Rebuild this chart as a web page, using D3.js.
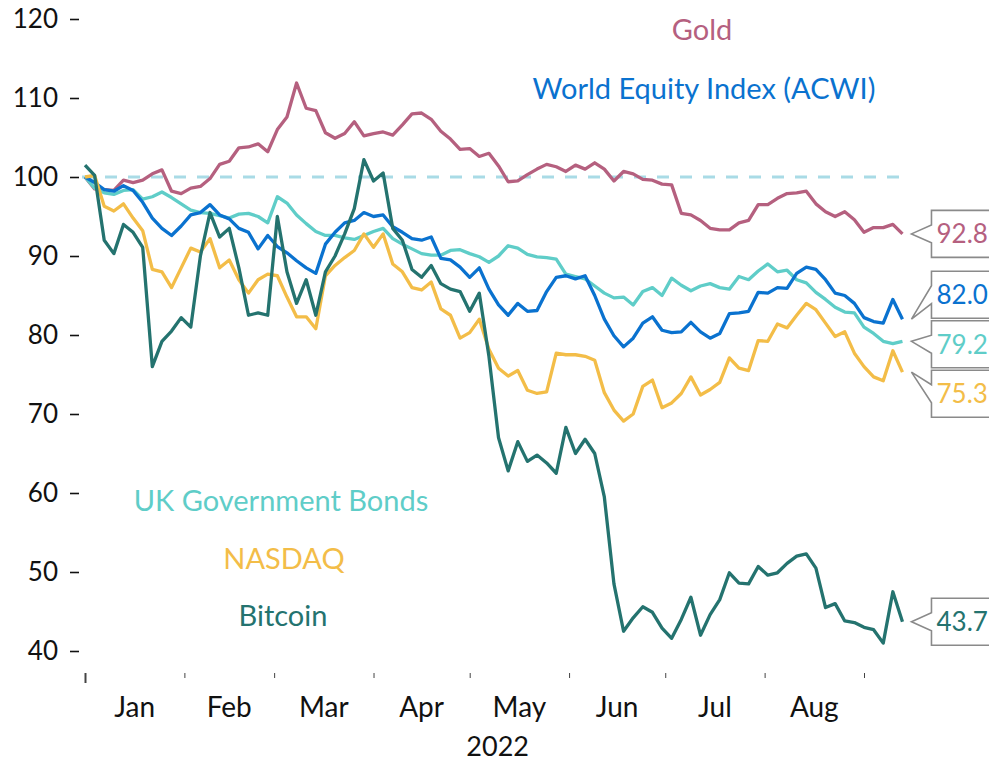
<!DOCTYPE html>
<html>
<head>
<meta charset="utf-8">
<script src="https://cdn.jsdelivr.net/npm/d3@7"></script>
<style>
  body { margin: 0; background: #fff; }
  text { font-family: Lato, "Open Sans", sans-serif; }
</style>
</head>
<body>
<svg id="chart" width="989" height="763"></svg>
<script>
// sample dates: every third day from 1 Jan 2022
var startDate = new Date(2022, 0, 1);
var dates = d3.range(86).map(function(i) { return d3.timeDay.offset(startDate, 3 * i); });

var gold = [100.0, 98.5, 98.4, 98.3, 99.6, 99.3, 99.6, 100.4, 100.9, 98.2,
  97.9, 98.6, 98.8, 99.8, 101.6, 102.0, 103.7, 103.8, 104.2, 103.2,
  106.0, 107.6, 111.9, 108.7, 108.4, 105.6, 104.9, 105.5, 107.0, 105.2,
  105.5, 105.7, 105.3, 106.6, 108.0, 108.1, 107.3, 105.8, 104.8, 103.5,
  103.6, 102.6, 103.0, 101.4, 99.4, 99.5, 100.3, 101.0, 101.6, 101.3,
  100.7, 101.5, 101.0, 101.8, 101.0, 99.5, 100.7, 100.4, 99.7, 99.6,
  99.1, 99.0, 95.4, 95.2, 94.5, 93.5, 93.3, 93.3, 94.2, 94.5,
  96.5, 96.5, 97.3, 97.9, 98.0, 98.2, 96.6, 95.6, 95.0, 95.6,
  94.6, 93.0, 93.6, 93.6, 94.0, 92.8];

var acwi = [100.0, 99.3, 98.4, 98.2, 98.9, 98.3, 96.8, 94.8, 93.5, 92.6,
  93.8, 95.2, 95.5, 96.5, 95.2, 94.7, 93.5, 93.0, 90.9, 92.6,
  91.2, 90.4, 89.4, 88.5, 87.8, 91.5, 93.0, 94.2, 94.5, 95.5,
  95.0, 95.2, 93.7, 93.0, 92.2, 92.0, 92.4, 89.7, 89.5, 88.6,
  87.3, 88.5, 85.8, 83.8, 82.5, 84.0, 83.0, 83.1, 85.5, 87.3,
  87.5, 87.1, 87.5, 85.0, 82.0, 79.9, 78.5, 79.6, 81.5, 82.3,
  80.6, 80.3, 80.4, 81.6, 80.4, 79.6, 80.2, 82.7, 82.8, 83.0,
  85.4, 85.3, 86.0, 85.9, 87.8, 88.6, 88.3, 87.0, 85.3, 85.0,
  84.0, 82.2, 81.7, 81.5, 84.5, 82.0];

var ukBonds = [100.0, 98.6, 98.0, 97.8, 98.3, 98.4, 97.2, 97.5, 98.1, 97.4,
  96.6, 95.8, 95.5, 95.4, 95.1, 94.8, 95.3, 95.4, 95.0, 94.2,
  97.5, 96.7, 95.2, 94.1, 93.1, 92.6, 92.6, 92.3, 92.1, 92.6,
  93.1, 93.5, 92.2, 91.5, 90.9, 90.3, 90.1, 90.1, 90.7, 90.8,
  90.3, 89.9, 89.2, 90.0, 91.3, 91.0, 90.2, 89.9, 89.8, 89.6,
  87.7, 87.4, 87.1, 86.2, 85.3, 84.7, 84.8, 83.8, 85.5, 86.0,
  85.0, 87.2, 86.3, 85.6, 86.2, 86.5, 86.0, 85.8, 87.4, 87.0,
  88.1, 89.0, 88.0, 88.2, 87.0, 86.6, 85.4, 84.5, 83.5, 82.9,
  82.8, 81.0, 80.2, 79.2, 78.9, 79.2];

var nasdaq = [100.0, 100.2, 96.3, 95.7, 96.6, 94.8, 93.2, 88.3, 88.0, 86.0,
  88.5, 91.0, 90.5, 92.2, 88.5, 89.5, 87.0, 85.3, 87.0, 87.7,
  87.5, 84.8, 82.3, 82.3, 80.8, 87.5, 88.8, 89.8, 90.7, 92.8,
  91.1, 92.8, 89.0, 88.0, 86.0, 85.7, 86.7, 83.3, 82.5, 79.6,
  80.3, 82.0, 78.2, 75.8, 74.8, 75.5, 73.0, 72.6, 72.8, 77.7,
  77.5, 77.5, 77.3, 76.8, 72.7, 70.5, 69.1, 70.0, 73.5, 74.3,
  70.8, 71.4, 72.6, 74.7, 72.4, 73.1, 74.0, 77.1, 75.8, 75.5,
  79.3, 79.2, 81.4, 80.9, 82.5, 84.0, 83.2, 81.5, 79.8, 80.4,
  77.7, 76.0, 74.7, 74.2, 78.0, 75.3];

var bitcoin = [101.5, 100.2, 92.0, 90.3, 94.0, 93.0, 91.1, 76.0, 79.2, 80.5,
  82.2, 81.0, 90.0, 95.5, 92.4, 93.5, 88.5, 82.5, 82.8, 82.5,
  95.0, 88.0, 84.0, 87.0, 82.5, 88.0, 90.0, 92.8, 96.0, 102.2,
  99.5, 100.5, 93.5, 92.0, 88.3, 87.3, 88.8, 86.5, 85.8, 85.5,
  83.0, 85.3, 77.3, 67.0, 62.8, 66.5, 64.0, 64.8, 63.8, 62.5,
  68.3, 65.0, 66.8, 65.0, 59.5, 48.5, 42.5, 44.2, 45.6, 44.9,
  42.9, 41.6, 44.0, 46.8, 42.0, 44.6, 46.5, 49.9, 48.6, 48.5,
  50.7, 49.6, 49.9, 51.1, 52.0, 52.3, 50.5, 45.5, 46.0, 43.8,
  43.6, 43.0, 42.7, 41.0, 47.5, 43.7];

var yTicks = [40, 50, 60, 70, 80, 90, 100, 110, 120];
var baseline = 100;
var yearLabel = "2022";

var series = [
  { name: "Gold", values: gold, color: "#b5607f", lx: 702, ly: 40 },
  { name: "UK Government Bonds", values: ukBonds, color: "#5fcdc8", lx: 281, ly: 511 },
  { name: "World Equity Index (ACWI)", values: acwi, color: "#0a72cf", lx: 704, ly: 99 },
  { name: "NASDAQ", values: nasdaq, color: "#f3bd48", lx: 284, ly: 569 },
  { name: "Bitcoin", values: bitcoin, color: "#24736f", lx: 283, ly: 626 }
];

var svg = d3.select("#chart");

var x = d3.scaleTime()
  .domain([new Date(2022, 0, 1), new Date(2022, 8, 1)])
  .range([85, 864]);

var y = d3.scaleLinear()
  .domain([40, 120])
  .range([651, 19]);

// y axis: labels with short dashes
var yAxis = svg.append("g")
  .attr("transform", "translate(79,0)")
  .call(d3.axisLeft(y).tickValues(yTicks).tickSize(9).tickPadding(12));
yAxis.select(".domain").remove();
yAxis.selectAll(".tick line").attr("stroke", "#111").attr("stroke-width", 1.6);
yAxis.selectAll(".tick text")
  .attr("fill", "#111")
  .style("font-size", "26px")
  .style("font-family", "Lato, sans-serif");

// x axis: month ticks, labels in the middle of each month
var months = d3.timeMonth.range(new Date(2022, 0, 1), new Date(2022, 8, 2));
var xAxis = svg.append("g")
  .attr("transform", "translate(0,673)")
  .call(d3.axisBottom(x).tickValues(months).tickSize(5).tickFormat(""));
xAxis.select(".domain").remove();
xAxis.selectAll(".tick line")
  .attr("stroke", "#444")
  .attr("y2", function(d, i) { return i === 0 ? 10 : 5; })
  .attr("stroke-width", function(d, i) { return i === 0 ? 2 : 1; });

svg.append("g").selectAll("text")
  .data(months.slice(0, -1))
  .join("text")
  .attr("x", function(d) { return (x(d) + x(d3.timeMonth.offset(d, 1))) / 2; })
  .attr("y", 717)
  .attr("text-anchor", "middle")
  .attr("fill", "#111")
  .style("font-size", "28px")
  .text(d3.timeFormat("%b"));

svg.append("text")
  .attr("x", x(new Date(2022, 4, 1)) + 28)
  .attr("y", 756)
  .attr("text-anchor", "middle")
  .attr("fill", "#111")
  .style("font-size", "27px")
  .text(yearLabel);

// reference line at 100
svg.append("line")
  .attr("x1", x(dates[0]) - 3)
  .attr("x2", x(dates[dates.length - 1]) + 2)
  .attr("y1", y(baseline))
  .attr("y2", y(baseline))
  .attr("stroke", "#a9dbe6")
  .attr("stroke-width", 3)
  .attr("stroke-dasharray", "12,11");

var line = d3.line()
  .x(function(d, i) { return x(dates[i]); })
  .y(function(d) { return y(d); });

svg.append("g").selectAll("path")
  .data(series)
  .join("path")
  .attr("d", function(s) { return line(s.values); })
  .attr("fill", "none")
  .attr("stroke", function(s) { return s.color; })
  .attr("stroke-width", 3.3)
  .attr("stroke-linejoin", "round");

// series names
svg.append("g").selectAll("text")
  .data(series)
  .join("text")
  .attr("x", function(s) { return s.lx; })
  .attr("y", function(s) { return s.ly; })
  .attr("text-anchor", "middle")
  .attr("fill", function(s) { return s.color; })
  .style("font-size", "29px")
  .text(function(s) { return s.name; });

// end value callouts, pushed apart where they overlap
var boxH = 47, boxGap = 49.5;
var lastX = x(dates[dates.length - 1]);
var tipX = lastX + 9, boxX = tipX + 20;

var ends = series.map(function(s) {
  var v = s.values[s.values.length - 1];
  return { s: s, v: v, ty: y(v) };
}).sort(function(a, b) { return a.ty - b.ty; });

var groups = ends.map(function(e) { return { items: [e] }; });
function groupCenter(g) { return d3.mean(g.items, function(e) { return e.ty; }); }
var merged = true;
while (merged) {
  merged = false;
  for (var i = 1; i < groups.length; i++) {
    var a = groups[i - 1], b = groups[i];
    var aBottom = groupCenter(a) + a.items.length * boxGap / 2;
    var bTop = groupCenter(b) - b.items.length * boxGap / 2;
    if (aBottom > bTop) {
      a.items = a.items.concat(b.items);
      groups.splice(i, 1);
      merged = true;
      break;
    }
  }
}
groups.forEach(function(g) {
  var top = groupCenter(g) - g.items.length * boxGap / 2;
  g.items.forEach(function(e, k) { e.cy = top + boxGap * (k + 0.5); });
});

var callouts = svg.append("g").selectAll("g")
  .data(ends)
  .join("g");

callouts.append("path")
  .attr("d", function(e) {
    var t = e.cy - boxH / 2, b = e.cy + boxH / 2;
    return "M" + (boxX + 80) + "," + t + "L" + boxX + "," + t +
      "L" + boxX + "," + (e.cy - 9) + "L" + tipX + "," + e.ty +
      "L" + boxX + "," + (e.cy + 9) + "L" + boxX + "," + b +
      "L" + (boxX + 80) + "," + b;
  })
  .attr("fill", "#fff")
  .attr("stroke", "#8a8a8a")
  .attr("stroke-width", 1.6);

callouts.append("text")
  .attr("x", boxX + 5)
  .attr("y", function(e) { return e.cy; })
  .attr("dy", "0.36em")
  .attr("fill", function(e) { return e.s.color; })
  .style("font-size", "26px")
  .text(function(e) { return d3.format(".1f")(e.v); });
</script>
</body>
</html>
